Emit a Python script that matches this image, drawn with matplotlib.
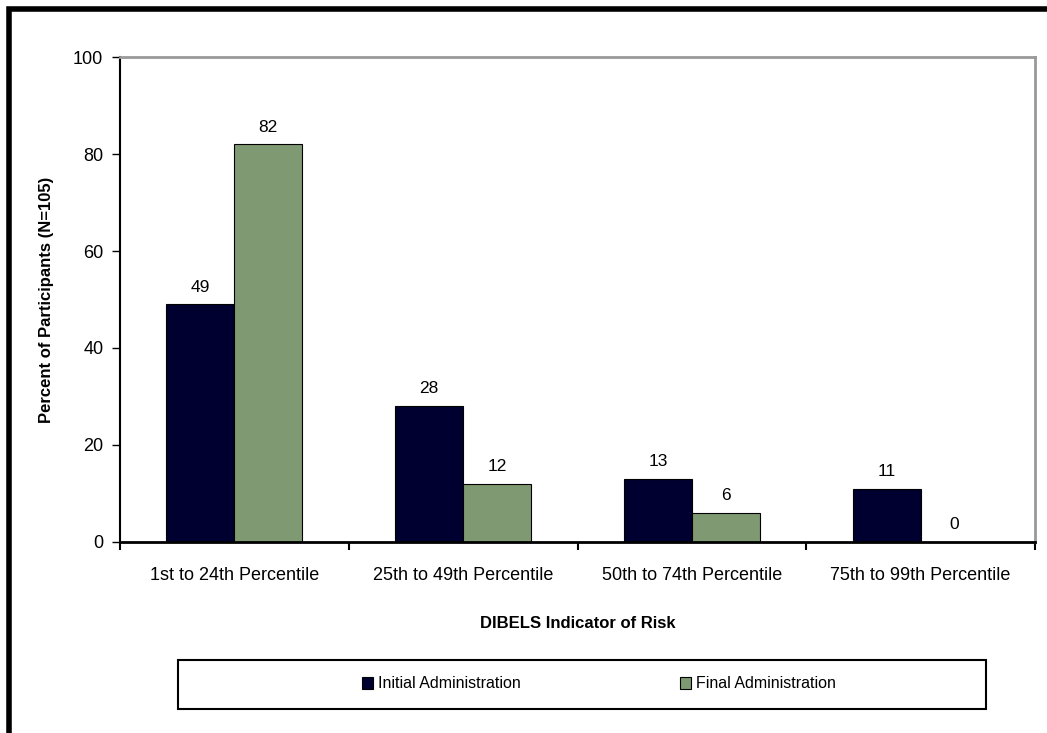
import matplotlib.pyplot as plt
import numpy as np
from matplotlib.patches import Rectangle

plt.rcParams['font.family'] = ['Liberation Sans', 'DejaVu Sans']

categories = ['1st to 24th Percentile', '25th to 49th Percentile',
              '50th to 74th Percentile', '75th to 99th Percentile']
initial = [49, 28, 13, 11]
final = [82, 12, 6, 0]
series_names = ['Initial Administration', 'Final Administration']
colors = ['#000030', '#7f9a72']

fig = plt.figure(figsize=(10.47, 7.33), dpi=100)
ax = fig.add_axes([0.1146, 0.2606, 0.874, 0.6616])

x = np.arange(len(categories))
w = 0.297
b1 = ax.bar(x - w / 2, initial, w, color=colors[0], edgecolor='black', linewidth=0.8,
            label=series_names[0])
b2 = ax.bar(x + w / 2, final, w, color=colors[1], edgecolor='black', linewidth=0.8,
            label=series_names[1])

for bars, vals in ((b1, initial), (b2, final)):
    for bar, v in zip(bars, vals):
        ax.text(bar.get_x() + bar.get_width() / 2, v + 2, str(v),
                ha='center', va='bottom', fontsize=12.5)

ax.set_xlim(-0.5, len(categories) - 0.5)
ax.set_ylim(0, 100)
ax.set_yticks([0, 20, 40, 60, 80, 100])
ax.set_xticks(x)
ax.set_xticklabels(categories, fontsize=13)
ax.tick_params(axis='x', length=0, pad=18)
ax.set_xticks(np.arange(len(categories) + 1) - 0.5, minor=True)
ax.tick_params(axis='x', which='minor', length=6, width=1.5, direction='out')
ax.tick_params(axis='y', labelsize=13, length=6, width=1, direction='out', pad=6)

for side in ('top', 'right'):
    ax.spines[side].set_color('#999999')
    ax.spines[side].set_linewidth(2)
ax.spines['left'].set_linewidth(1.5)
ax.spines['bottom'].set_linewidth(2)

ax.set_ylabel('Percent of Participants (N=105)', fontsize=12, fontweight='bold', labelpad=14)
ax.set_xlabel('DIBELS Indicator of Risk', fontsize=12, fontweight='bold', labelpad=23)

# legend box below the plot
fig.patches.append(Rectangle((178 / 1047, 1 - 709 / 733), 808 / 1047, 49 / 733,
                             transform=fig.transFigure, fill=False,
                             edgecolor='black', linewidth=1.5))
fig.legend(handles=[b1, b2], loc='center', bbox_to_anchor=(599 / 1047, 1 - 684 / 733),
           ncol=2, frameon=False, fontsize=11.5, handlelength=0.7, handleheight=0.7,
           handletextpad=0.3, columnspacing=10)

# thick outer frame
fig.patches.append(Rectangle((9 / 1047, -0.1), 1.2, 1 - 9 / 733 + 0.1,
                             transform=fig.transFigure, fill=False,
                             edgecolor='black', linewidth=4))

fig.savefig('out.png', dpi=100)
